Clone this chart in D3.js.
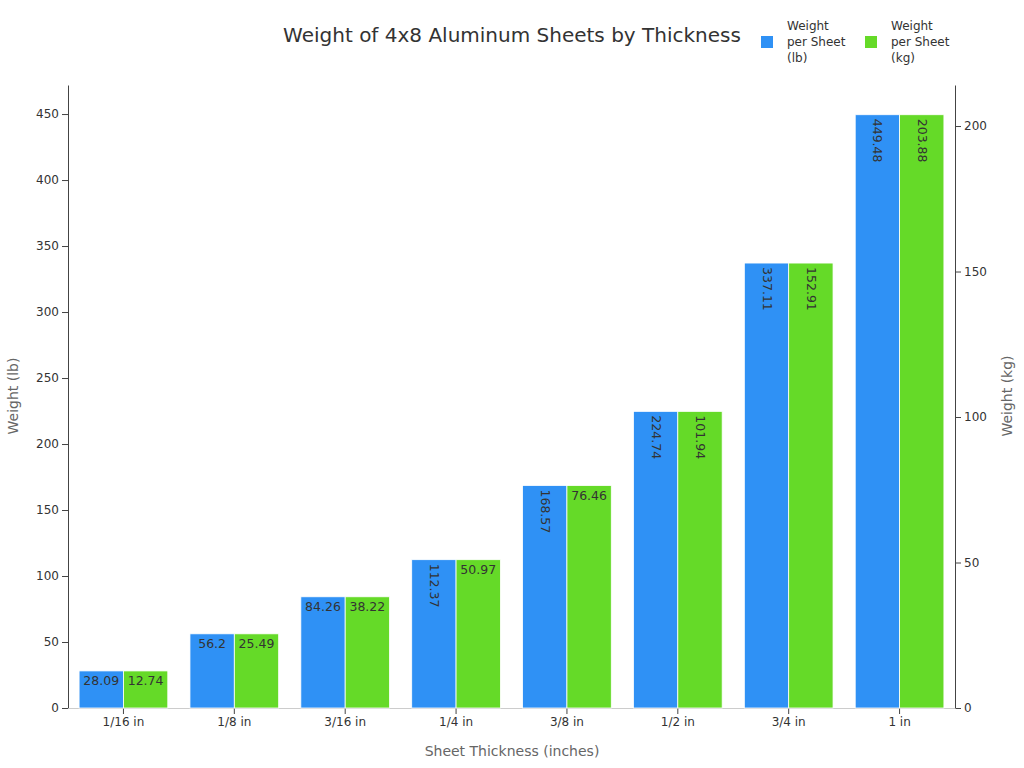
<!DOCTYPE html><html><head><meta charset="utf-8"><script src="https://cdn.jsdelivr.net/npm/d3@7"></script>
<style>body{margin:0;background:#fff;font-family:"DejaVu Sans",sans-serif}</style></head><body><svg width="1024" height="768"></svg><script>
const categories=["1/16 in","1/8 in","3/16 in","1/4 in","3/8 in","1/2 in","3/4 in","1 in"];
const lbValues=[28.09,56.2,84.26,112.37,168.57,224.74,337.11,449.48];
const kgValues=[12.74,25.49,38.22,50.97,76.46,101.94,152.91,203.88];
const leftTicks=[0,50,100,150,200,250,300,350,400,450];
const rightTicks=[0,50,100,150,200];
const seriesNames=["Weight per Sheet (lb)","Weight per Sheet (kg)"];
const colors=["#2f91f5","#65da28"];
const svg=d3.select("svg");
const L=68,R=955,T=85,B=708;
const x=d3.scaleBand().domain(categories).range([L,R]).paddingInner(0.2).paddingOuter(0.1);
const x2=d3.scaleBand().domain([0,1]).range([0,x.bandwidth()]);
const yL=d3.scaleLinear().domain([0,472]).range([B,T]);
const yR=d3.scaleLinear().domain([0,472/2.2046]).range([B,T]);
const fs="12px";
const gl=svg.append("g").attr("transform",`translate(${L},0)`).call(d3.axisLeft(yL).tickValues(leftTicks).tickSizeOuter(0));
const gr=svg.append("g").attr("transform",`translate(${R},0)`).call(d3.axisRight(yR).tickValues(rightTicks).tickSizeOuter(0));
const gb=svg.append("g").attr("transform",`translate(0,${B})`).call(d3.axisBottom(x).tickSizeOuter(0));
[gl,gr,gb].forEach(g=>{g.selectAll("path,line").attr("stroke","#444");g.selectAll("text").attr("font-size",fs).attr("fill","#333").attr("font-family","DejaVu Sans");});
gb.select("path").attr("stroke","#ccc");
const data=[lbValues.map((v,i)=>({c:categories[i],v,s:0,y:yL})),kgValues.map((v,i)=>({c:categories[i],v,s:1,y:yR}))].flat();
const g=svg.append("g");
data.forEach(d=>{
 const bx=x(d.c)+x2(d.s),bw=x2.bandwidth(),by=d.y(d.v);
 g.append("rect").attr("x",bx).attr("y",by).attr("width",bw).attr("height",B-by).attr("fill",colors[d.s]).attr("stroke","#fff").attr("stroke-width",0.8);
 const lab=String(d.v);
 if(lab.length<=5){
  g.append("text").attr("x",bx+bw/2).attr("y",by+14).attr("text-anchor","middle").attr("font-size","12.5px").attr("fill","#333").text(lab);
 } else {
  g.append("text").attr("transform",`translate(${bx+bw/2-4},${by+4}) rotate(90)`).attr("font-size","12.5px").attr("fill","#333").text(lab);
 }
});
svg.append("text").attr("x",512).attr("y",42).attr("text-anchor","middle").attr("font-size","20px").attr("fill","#333").text("Weight of 4x8 Aluminum Sheets by Thickness");
svg.append("text").attr("x",512).attr("y",756).attr("text-anchor","middle").attr("font-size","14px").attr("fill","#666").text("Sheet Thickness (inches)");
svg.append("text").attr("transform","translate(18,396) rotate(-90)").attr("text-anchor","middle").attr("font-size","14px").attr("fill","#666").text("Weight (lb)");
svg.append("text").attr("transform","translate(1012,396) rotate(-90)").attr("text-anchor","middle").attr("font-size","14px").attr("fill","#666").text("Weight (kg)");
const lines=[["Weight","per Sheet","(lb)"],["Weight","per Sheet","(kg)"]];
[0,1].forEach(i=>{
 const lx=761+i*104;
 svg.append("rect").attr("x",lx).attr("y",36).attr("width",12).attr("height",12).attr("fill",colors[i]);
 const t=svg.append("text").attr("x",lx+26).attr("y",30).attr("font-size","12px").attr("fill","#333");
 lines[i].forEach((s,k)=>t.append("tspan").attr("x",lx+26).attr("dy",k?16:0).text(s));
});
</script></body></html>
